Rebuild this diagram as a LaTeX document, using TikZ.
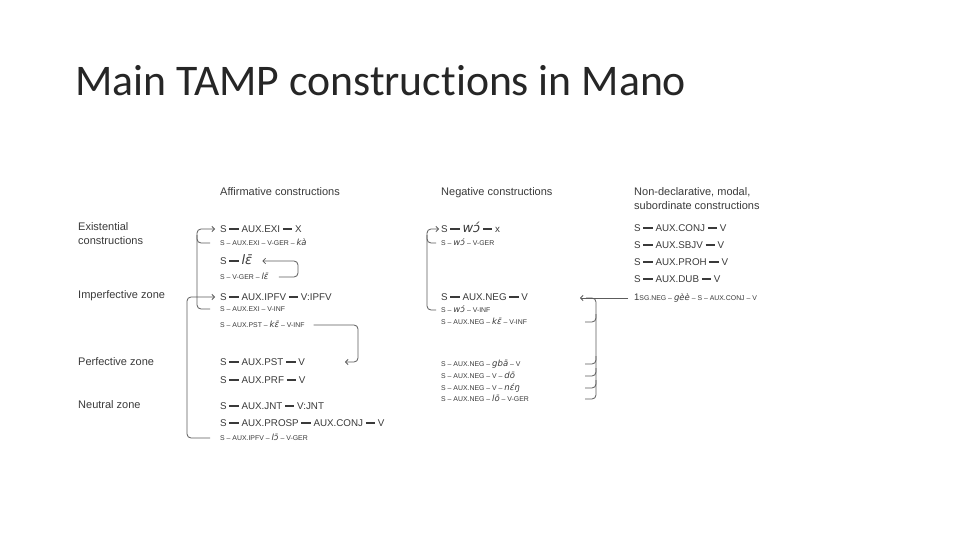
\documentclass[tikz,border=0pt]{standalone}
\usepackage{fontspec}
\setmainfont{Liberation Sans}
\newfontfamily\titlefont{Carlito}[Ligatures=NoCommon]
\newfontfamily\manofont{DejaVu Sans}
\usetikzlibrary{arrows.meta}

\definecolor{inkgray}{HTML}{3A3A3A}
\definecolor{linkgray}{HTML}{5C5C5C}

% dashes and Mano words
\newcommand\bd{\hspace{0.28em}\rule[0.3em]{0.95em}{0.12em}\hspace{0.28em}}
\newcommand\sd{ \textendash{} }
\newcommand\mwb[1]{{\manofont\itshape\fontsize{13}{13}\selectfont #1}}
\newcommand\mw[1]{{\manofont\itshape\fontsize{8.5}{9}\selectfont #1}}

\tikzset{
  big/.style={anchor=west, inner sep=0pt, text=inkgray, text height=7pt, text depth=0pt,
    font=\fontsize{9.8}{11}\selectfont},
  small/.style={anchor=west, inner sep=0pt, text=inkgray, text height=4.9pt, text depth=0pt,
    font=\fontsize{6.9}{8}\selectfont},
  head/.style={anchor=base west, inner sep=0pt, text=inkgray, align=left,
    font=\fontsize{11}{14}\selectfont},
  link/.style={draw=linkgray, line width=0.8pt, rounded corners=4pt},
}

\begin{document}
\begin{tikzpicture}[x=1pt, y=-1pt, >={Straight Barb[length=2.6pt, width=5.5pt]}]
  \fill[white] (0,0) rectangle (960,540);
  \useasboundingbox (0,0) rectangle (960,540);

  \node[anchor=base west, inner sep=0pt, text=black!85, font=\titlefont\fontsize{43.7}{50}\selectfont]
    (title) at (75,96) {Main TAMP constructions in Mano};

  % column heads
  \node[head] (hAff) at (220,195) {Affirmative constructions};
  \node[head] (hNeg) at (441,195) {Negative constructions};
  \node[head, anchor=north west] (hNon) at (634,187) {Non-declarative, modal,\\subordinate constructions};

  % row labels
  \node[head, anchor=west] (lExist) at (78,234) {Existential\\constructions};
  \node[head, anchor=west] (lIpfv) at (78,296) {Imperfective zone};
  \node[head, anchor=west] (lPfv) at (78,362) {Perfective zone};
  \node[head, anchor=west] (lNeut) at (78,405) {Neutral zone};

  % affirmative
  \node[big] (exiX) at (220,229) {S\bd AUX.EXI\bd X};
  \node[small] (exiGer) at (220,243) {S\sd AUX.EXI\sd V-GER\sd \mw{kà}};
  \node[big] (le) at (220,261) {S\bd \mwb{lɛ̄}};
  \node[small] (leGer) at (220,277) {S\sd V-GER\sd \mw{lɛ̄}};
  \node[big] (ipfv) at (220,297) {S\bd AUX.IPFV\bd V:IPFV};
  \node[small] (exiInf) at (220,309) {S\sd AUX.EXI\sd V-INF};
  \node[small] (pstKe) at (220,325) {S\sd AUX.PST\sd \mw{kɛ̄}\sd V-INF};
  \node[big] (pst) at (220,362) {S\bd AUX.PST\bd V};
  \node[big] (prf) at (220,380) {S\bd AUX.PRF\bd V};
  \node[big] (jnt) at (220,406) {S\bd AUX.JNT\bd V:JNT};
  \node[big] (prosp) at (220,423) {S\bd AUX.PROSP\bd AUX.CONJ\bd V};
  \node[small] (ipfvLo) at (220,438) {S\sd AUX.IPFV\sd \mw{lɔ̄}\sd V-GER};

  % negative
  \node[big] (woX) at (441,229) {S\bd \mwb{wɔ́}\bd x};
  \node[small] (woGer) at (441,243) {S\sd \mw{wɔ́}\sd V-GER};
  \node[big] (neg) at (441,297) {S\bd AUX.NEG\bd V};
  \node[small] (woInf) at (441,310) {S\sd \mw{wɔ́}\sd V-INF};
  \node[small] (negKe) at (441,322) {S\sd AUX.NEG\sd \mw{kɛ̄}\sd V-INF};
  \node[small] (negGba) at (441,364) {S\sd AUX.NEG\sd \mw{gbā}\sd V};
  \node[small] (negDo) at (441,376) {S\sd AUX.NEG\sd V\sd \mw{dō}};
  \node[small] (negNeng) at (441,388) {S\sd AUX.NEG\sd V\sd \mw{nɛ́ŋ}};
  \node[small] (negLo) at (441,399) {S\sd AUX.NEG\sd \mw{lō}\sd V-GER};

  % non-declarative
  \node[big] (conj) at (634,228) {S\bd AUX.CONJ\bd V};
  \node[big] (sbjv) at (634,245) {S\bd AUX.SBJV\bd V};
  \node[big] (proh) at (634,262) {S\bd AUX.PROH\bd V};
  \node[big] (dub) at (634,279) {S\bd AUX.DUB\bd V};
  \node[small] (geeConj) at (634,298) {{\fontsize{9.5}{9}\selectfont 1}SG.NEG\sd \mw{gèè}\sd S\sd AUX.CONJ\sd V};

  % bracket spines
  \coordinate (spineA) at (197,0);
  \coordinate (spineB) at (187,0);
  \coordinate (hookC) at (298,0);
  \coordinate (hookD) at (358,0);
  \coordinate (spineE) at (427,0);
  \coordinate (spineF) at (596,0);

  % affirmative links
  \draw[link, ->] ([xshift=-10pt]exiInf.west) -| (spineA |- exiX.west) -- ([xshift=-5pt]exiX.west);
  \draw[link] ([xshift=-10pt]exiGer.west) -| ([yshift=8pt]spineA |- exiGer.west);
  \draw[link, ->] ([xshift=-10pt]ipfvLo.west) -| (spineB |- ipfv.west) -- ([xshift=-5pt]ipfv.west);
  \draw[link, ->] ([xshift=10pt]leGer.east) -| (hookC |- le.east) -- ([xshift=10pt]le.east);
  \draw[link, ->] ([xshift=9pt]pstKe.east) -| (hookD |- pst.east) -- ([xshift=40pt]pst.east);

  % negative links
  \draw[link, ->] ([xshift=-5pt]woInf.west) -| (spineE |- woX.west) -- ([xshift=-2pt]woX.west);
  \draw[link] ([xshift=-5pt]woGer.west) -| ([yshift=8pt]spineE |- woGer.west);

  % links into the non-declarative column
  \draw[link, ->] ([xshift=-6pt]geeConj.west) -- ([xshift=-54pt]geeConj.west);
  \draw[link] ([xshift=-11pt]spineF |- negLo.west) -| (spineF |- geeConj.west) -- ([xshift=-10pt]spineF |- geeConj.west);
  \foreach \n in {negKe, negGba, negDo, negNeng}
    \draw[link] ([xshift=-11pt]spineF |- \n.west) -| ([yshift=8pt]spineF |- \n.west);
\end{tikzpicture}
\end{document}
